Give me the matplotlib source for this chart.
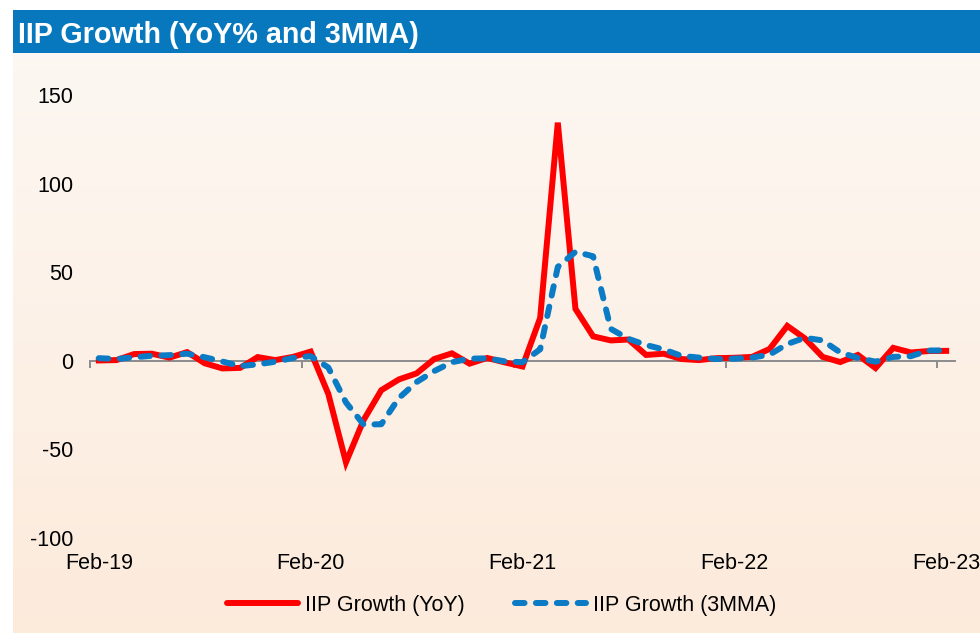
import numpy as np
import matplotlib.pyplot as plt
from matplotlib.lines import Line2D

plt.rcParams['font.family'] = ['Liberation Sans', 'DejaVu Sans']

# monthly, Feb-19 .. Feb-23
months = ['Feb-19', 'Mar-19', 'Apr-19', 'May-19', 'Jun-19', 'Jul-19', 'Aug-19', 'Sep-19', 'Oct-19', 'Nov-19', 'Dec-19', 'Jan-20',
          'Feb-20', 'Mar-20', 'Apr-20', 'May-20', 'Jun-20', 'Jul-20', 'Aug-20', 'Sep-20', 'Oct-20', 'Nov-20', 'Dec-20', 'Jan-21',
          'Feb-21', 'Mar-21', 'Apr-21', 'May-21', 'Jun-21', 'Jul-21', 'Aug-21', 'Sep-21', 'Oct-21', 'Nov-21', 'Dec-21', 'Jan-22',
          'Feb-22', 'Mar-22', 'Apr-22', 'May-22', 'Jun-22', 'Jul-22', 'Aug-22', 'Sep-22', 'Oct-22', 'Nov-22', 'Dec-22', 'Jan-23',
          'Feb-23']
iip_yoy = [0.2, 0.4, 3.8, 4.0, 1.8, 4.9, -1.4, -4.3, -4.0, 2.1, 0.4, 2.2,
           5.2, -18.7, -57.3, -33.4, -16.6, -10.5, -7.1, 1.0, 4.2, -1.6, 1.6, -0.9,
           -3.2, 24.2, 134.4, 29.3, 13.8, 11.5, 12.0, 3.3, 4.0, 1.0, 0.4, 1.5,
           1.7, 2.2, 6.7, 19.7, 12.6, 2.2, -0.7, 3.3, -4.1, 7.3, 4.7, 5.5,
           5.6]
iip_3mma = [1.5, 1.0, 2.0, 2.8, 3.2, 4.0, 2.0, -0.4, -3.0, -2.0, -0.5, 1.6,
            2.6, -3.8, -23.5, -36.0, -35.8, -21.0, -12.0, -5.8, -0.8, 1.2, 1.4, -0.3,
            -0.8, 6.5, 53.0, 61.5, 59.0, 18.0, 12.4, 8.9, 6.4, 2.8, 1.8, 1.0,
            1.2, 1.8, 3.5, 9.5, 13.0, 11.5, 4.7, 1.6, -0.5, 2.2, 2.6, 5.8,
            5.9]
yticks = [-100, -50, 0, 50, 100, 150]

W, H = 980, 633
fig = plt.figure(figsize=(W / 100, H / 100), dpi=100)
fig.patch.set_facecolor('white')

# peach gradient panel + blue title bar
bg = fig.add_axes([13 / W, 0, 1 - 13 / W, 1 - 53 / H], zorder=0)
grad = np.linspace(0, 1, 256).reshape(-1, 1)
top_c = np.array([0.99, 0.97, 0.95])
bot_c = np.array([0.99, 0.92, 0.86])
img = top_c + (bot_c - top_c) * grad[:, :, None]
bg.imshow(img, aspect='auto', extent=[0, 1, 0, 1], origin='upper')
bg.axis('off')

tb = fig.add_axes([13 / W, 1 - 53 / H, 1 - 13 / W, 43 / H], zorder=0)
tb.set_facecolor('#0878BE')
tb.set_xticks([])
tb.set_yticks([])
for s in tb.spines.values():
    s.set_visible(False)
tb.text(5 / (W - 13), 0.42, 'IIP Growth (YoY% and 3MMA)', color='white', fontsize=20.7, fontweight='bold',
        va='center', ha='left', transform=tb.transAxes)

ax = fig.add_axes([90 / W, 1 - 538 / H, (955 - 90) / W, (538 - 95) / H], zorder=2)
ax.patch.set_alpha(0)
x = np.arange(len(months))
ax.plot(x, iip_yoy, color='#FF0000', lw=4.3, solid_joinstyle='miter', label='IIP Growth (YoY)', zorder=3)
ax.plot(x, iip_3mma, color='#0A7BC4', lw=4.3, dashes=(1.6, 1.9), dash_capstyle='round',
        label='IIP Growth (3MMA)', zorder=4)

ax.set_xlim(-0.5, len(months) - 0.5)
ax.set_ylim(-100, 150)
ax.set_yticks(yticks)
ax.set_yticklabels([str(v) for v in yticks])
ax.tick_params(axis='y', length=0, pad=12, labelsize=15.5)
for s in ['left', 'right', 'top']:
    ax.spines[s].set_visible(False)
ax.spines['bottom'].set_position(('data', 0))
ax.spines['bottom'].set_color('#8C8C8C')
ax.spines['bottom'].set_linewidth(1.4)
ax.set_xticks(np.arange(-0.5, len(months), 12))
ax.set_xticklabels([])
ax.tick_params(axis='x', direction='out', length=5, color='#8C8C8C', width=1.4)

sec = ax.secondary_xaxis('bottom')
sec.set_xticks(x[::12])
sec.set_xticklabels(months[::12])
sec.tick_params(length=0, pad=11, labelsize=15.5)
sec.spines['bottom'].set_visible(False)

handles = [Line2D([], [], color='#FF0000', lw=4.3, solid_capstyle='round'),
           Line2D([], [], color='#0A7BC4', lw=4.3, dashes=(1.6, 1.9), dash_capstyle='round')]
fig.legend(handles, ['IIP Growth (YoY)', 'IIP Growth (3MMA)'], loc='center',
           bbox_to_anchor=(0.512, 1 - 605 / H), ncol=2, frameon=False, fontsize=15.5,
           handlelength=3.3, handletextpad=0.35, columnspacing=2.3)

fig.savefig('out.png', dpi=100)
